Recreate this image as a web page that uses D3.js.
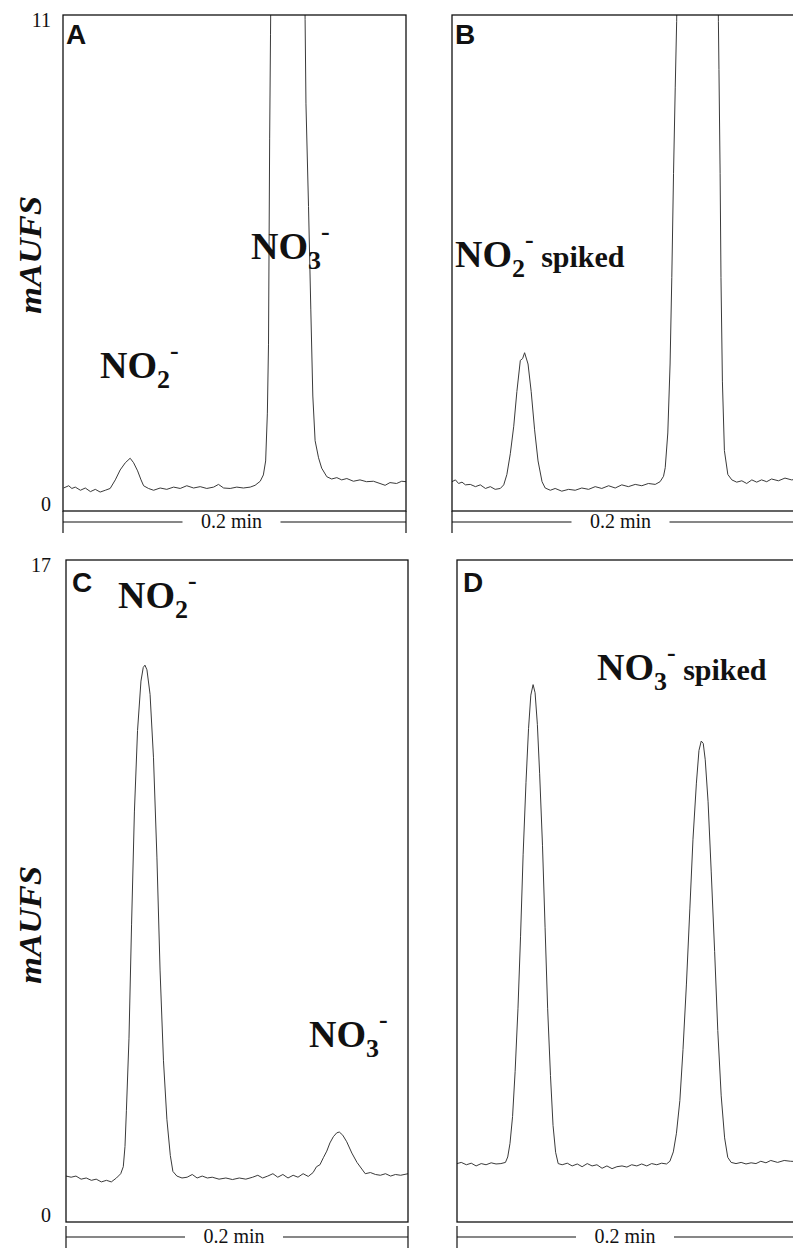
<!DOCTYPE html>
<html>
<head>
<meta charset="utf-8">
<script src="https://cdn.jsdelivr.net/npm/d3@7"></script>
<style>
  body { margin: 0; background: #fff; }
</style>
</head>
<body>
<div id="chart"></div>
<script>
var svgWidth = 793;
var svgHeight = 1248;

// time in seconds (0.2 min = 12 s across each panel), signal in mAUFS
var traceA = [[0.02,0.51],[0.20,0.56],[0.31,0.50],[0.43,0.53],[0.61,0.46],[0.78,0.51],[0.96,0.43],[1.13,0.48],[1.30,0.42],[1.48,0.46],
  [1.65,0.50],[1.83,0.69],[2.00,0.91],[2.18,1.07],[2.35,1.17],[2.47,1.07],[2.61,0.89],[2.73,0.69],[2.82,0.56],[2.99,0.50],
  [3.17,0.46],[3.40,0.51],[3.63,0.48],[3.87,0.53],[4.10,0.50],[4.33,0.56],[4.57,0.51],[4.80,0.54],[5.03,0.50],[5.27,0.53],
  [5.44,0.59],[5.62,0.51],[5.85,0.50],[6.08,0.53],[6.31,0.51],[6.55,0.53],[6.72,0.57],[6.90,0.66],[7.01,0.80],[7.09,1.11],
  [7.15,2.17],[7.19,3.70],[7.21,5.98],[7.23,8.27],[7.26,10.56],[7.28,12.08],[8.45,12.08],[8.47,10.90],[8.50,9.03],[8.59,6.75],
  [8.67,4.46],[8.74,2.55],[8.82,1.56],[8.94,1.18],[9.05,0.95],[9.23,0.76],[9.40,0.71],[9.58,0.74],[9.75,0.69],[9.93,0.72],
  [10.16,0.66],[10.39,0.69],[10.62,0.65],[10.86,0.66],[11.09,0.61],[11.27,0.57],[11.44,0.63],[11.67,0.61],[11.85,0.66],[12.00,0.65]];

var traceB = [[0.00,0.65],[0.12,0.69],[0.23,0.61],[0.35,0.64],[0.47,0.58],[0.64,0.59],[0.82,0.54],[0.99,0.58],[1.17,0.50],[1.34,0.54],
  [1.51,0.48],[1.69,0.50],[1.81,0.58],[1.92,0.81],[2.04,1.27],[2.16,1.88],[2.27,2.65],[2.39,3.34],[2.47,3.38],[2.54,3.51],
  [2.66,3.26],[2.77,2.65],[2.89,1.80],[3.01,1.11],[3.15,0.65],[3.26,0.51],[3.44,0.46],[3.61,0.50],[3.84,0.44],[4.08,0.48],
  [4.31,0.46],[4.54,0.51],[4.78,0.48],[5.01,0.54],[5.24,0.50],[5.48,0.56],[5.71,0.51],[5.94,0.58],[6.17,0.54],[6.41,0.59],
  [6.64,0.56],[6.87,0.61],[7.11,0.59],[7.28,0.65],[7.40,0.77],[7.46,0.96],[7.55,1.73],[7.63,3.26],[7.69,5.18],[7.75,7.48],
  [7.81,9.40],[7.86,10.86],[7.89,12.09],[9.30,12.09],[9.32,10.86],[9.34,9.79],[9.38,7.48],[9.41,5.18],[9.46,2.88],[9.53,1.34],
  [9.65,0.81],[9.79,0.69],[9.96,0.64],[10.14,0.67],[10.31,0.61],[10.49,0.69],[10.66,0.64],[10.83,0.69],[11.01,0.65],[11.18,0.71],
  [11.42,0.67],[11.65,0.73],[11.88,0.69],[12.00,0.70]];

var traceC = [[0.00,1.18],[0.18,1.15],[0.35,1.18],[0.53,1.10],[0.71,1.13],[0.89,1.07],[1.06,1.10],[1.24,1.03],[1.42,1.07],[1.59,1.03],
  [1.77,1.13],[1.92,1.24],[2.01,1.42],[2.07,1.94],[2.12,2.87],[2.21,4.72],[2.30,7.63],[2.40,10.53],[2.51,12.62],[2.63,13.89],
  [2.71,14.24],[2.77,14.30],[2.84,14.18],[2.95,13.55],[3.07,11.92],[3.19,9.37],[3.30,6.47],[3.42,4.14],[3.54,2.64],[3.66,1.71],
  [3.75,1.30],[3.89,1.18],[4.07,1.13],[4.25,1.15],[4.43,1.22],[4.60,1.13],[4.78,1.18],[4.96,1.13],[5.13,1.15],[5.37,1.10],
  [5.61,1.13],[5.84,1.09],[6.08,1.13],[6.31,1.10],[6.55,1.15],[6.73,1.20],[6.90,1.13],[7.08,1.18],[7.26,1.24],[7.43,1.15],
  [7.61,1.22],[7.79,1.13],[7.97,1.20],[8.14,1.15],[8.32,1.24],[8.50,1.17],[8.67,1.27],[8.79,1.42],[8.91,1.47],[9.03,1.65],
  [9.15,1.82],[9.26,2.03],[9.38,2.19],[9.50,2.29],[9.59,2.31],[9.71,2.23],[9.85,2.06],[10.03,1.77],[10.21,1.53],[10.38,1.36],
  [10.50,1.24],[10.68,1.27],[10.86,1.22],[11.03,1.20],[11.21,1.24],[11.39,1.18],[11.56,1.22],[11.74,1.20],[12.00,1.24]];

var traceD = [[0.00,1.50],[0.15,1.53],[0.33,1.47],[0.50,1.51],[0.67,1.44],[0.85,1.50],[1.02,1.47],[1.20,1.52],[1.37,1.49],[1.54,1.50],
  [1.70,1.53],[1.78,1.67],[1.86,2.02],[1.95,2.71],[2.04,3.87],[2.14,5.49],[2.23,7.34],[2.32,9.43],[2.42,11.28],[2.51,12.67],
  [2.59,13.53],[2.67,13.80],[2.74,13.59],[2.82,12.78],[2.90,11.51],[3.00,9.66],[3.09,7.57],[3.18,5.49],[3.28,3.76],[3.37,2.48],
  [3.46,1.79],[3.55,1.50],[3.69,1.47],[3.87,1.51],[4.04,1.44],[4.22,1.49],[4.39,1.42],[4.57,1.50],[4.74,1.44],[4.91,1.47],
  [5.09,1.38],[5.26,1.44],[5.44,1.37],[5.61,1.42],[5.79,1.44],[5.96,1.41],[6.13,1.47],[6.31,1.44],[6.48,1.49],[6.66,1.44],
  [6.83,1.50],[7.01,1.47],[7.18,1.51],[7.35,1.49],[7.47,1.56],[7.59,1.80],[7.70,2.28],[7.82,3.12],[7.93,4.43],[8.05,6.11],
  [8.17,8.04],[8.28,9.83],[8.40,11.27],[8.49,12.11],[8.57,12.35],[8.64,12.29],[8.71,11.87],[8.81,10.79],[8.92,8.99],[9.04,6.95],
  [9.15,4.92],[9.27,3.24],[9.39,2.16],[9.50,1.66],[9.62,1.53],[9.79,1.50],[9.97,1.53],[10.14,1.49],[10.32,1.52],[10.49,1.50],
  [10.66,1.56],[10.84,1.52],[11.01,1.58],[11.25,1.53],[11.48,1.58],[11.70,1.56],[12.00,1.55]];

var ticksTop = [0, 11];
var ticksBottom = [0, 17];
var scaleBarSeconds = 12;
var scaleBarLabel = "0.2 min";
var yTitle = "mAUFS";

var svg = d3.select("#chart")
    .append("svg")
    .attr("width", svgWidth)
    .attr("height", svgHeight);

var panels = [
    { letter: "A", trace: traceA, ticks: ticksTop, yMax: 11, left: 63, right: 406, top: 15, bottom: 511, barY: 522, showAxis: true,
      labels: [{ x: 100, y: 378, sub: "2" }, { x: 251, y: 259, sub: "3" }] },
    { letter: "B", trace: traceB, ticks: ticksTop, yMax: 11, left: 452, right: 795, top: 15, bottom: 511, barY: 522, showAxis: false,
      labels: [{ x: 455, y: 267, sub: "2", rest: " spiked" }] },
    { letter: "C", trace: traceC, ticks: ticksBottom, yMax: 17, left: 66, right: 408, top: 560, bottom: 1222, barY: 1237, showAxis: true,
      labels: [{ x: 118, y: 608, sub: "2" }, { x: 309, y: 1047, sub: "3" }] },
    { letter: "D", trace: traceD, ticks: ticksBottom, yMax: 17, left: 457, right: 799, top: 560, bottom: 1222, barY: 1237, showAxis: false,
      labels: [{ x: 597, y: 680, sub: "3", rest: " spiked" }] }
];

panels.forEach(function(p, i) {
    var xScale = d3.scaleLinear().domain([0, 12]).range([p.left, p.right]);
    var yScale = d3.scaleLinear().domain([0, p.yMax]).range([p.bottom, p.top]);

    var g = svg.append("g");

    svg.append("clipPath")
        .attr("id", "clip" + i)
        .append("rect")
        .attr("x", p.left)
        .attr("y", p.top)
        .attr("width", p.right - p.left)
        .attr("height", p.bottom - p.top);

    // chromatogram trace
    var line = d3.line()
        .x(d => xScale(d[0]))
        .y(d => yScale(d[1]));

    g.append("path")
        .datum(p.trace)
        .attr("clip-path", "url(#clip" + i + ")")
        .attr("d", line)
        .attr("fill", "none")
        .attr("stroke", "#3a3a3a")
        .attr("stroke-width", 1)
        .attr("stroke-linejoin", "round");

    // frame
    g.append("rect")
        .attr("x", p.left)
        .attr("y", p.top)
        .attr("width", p.right - p.left)
        .attr("height", p.bottom - p.top)
        .attr("fill", "none")
        .attr("stroke", "#111")
        .attr("stroke-width", 1.3);

    // y labels (only min / max)
    if (p.showAxis) {
        var leftAxis = d3.axisLeft(yScale)
            .tickValues(p.ticks)
            .tickSize(0)
            .tickPadding(p.left - 51)
            .tickFormat(d3.format("d"));
        var ax = g.append("g")
            .attr("transform", `translate(${p.left}, 0)`)
            .call(leftAxis);
        ax.select(".domain").remove();
        ax.selectAll(".tick text")
            .attr("font-family", "'Liberation Serif', 'Times New Roman', serif")
            .attr("font-size", 20)
            .attr("fill", "#111")
            .attr("dy", d => d === 0 ? "-0.05em" : "0.55em");

        var midY = (p.top + p.bottom) / 2 + (i === 0 ? -8 : 34);
        g.append("text")
            .attr("transform", `translate(41, ${midY}) rotate(-90)`)
            .attr("text-anchor", "middle")
            .attr("font-family", "'Liberation Serif', 'Times New Roman', serif")
            .attr("font-style", "italic")
            .attr("font-weight", "bold")
            .attr("font-size", 32)
            .attr("textLength", 118)
            .attr("lengthAdjust", "spacingAndGlyphs")
            .attr("fill", "#111")
            .text(yTitle);
    }

    // panel letter
    g.append("text")
        .attr("x", p.left + (p.top > 100 ? 6 : 3))
        .attr("y", p.top + (p.top > 100 ? 32 : 29))
        .attr("font-family", "'Liberation Sans', Arial, sans-serif")
        .attr("font-weight", "bold")
        .attr("font-size", 28)
        .attr("fill", "#111")
        .text(p.letter);

    // ion labels
    p.labels.forEach(function(l) {
        var t = g.append("text")
            .attr("x", l.x)
            .attr("y", l.y)
            .attr("font-family", "'Liberation Serif', 'Times New Roman', serif")
            .attr("font-weight", "bold")
            .attr("font-size", 38)
            .attr("fill", "#111");
        t.append("tspan").text("NO");
        t.append("tspan").attr("font-size", 26).attr("dy", 10).text(l.sub);
        t.append("tspan").attr("font-size", 26).attr("dy", -29).text("-");
        if (l.rest) {
            t.append("tspan").attr("font-size", 30).attr("dy", 19).text(l.rest);
        }
    });

    // 0.2 min scale bar
    var x0 = xScale(0);
    var x1 = xScale(scaleBarSeconds);
    var cx = (x0 + x1) / 2;
    var bar = g.append("g")
        .attr("stroke", "#111")
        .attr("stroke-width", 1.2);
    bar.append("line").attr("x1", x0).attr("x2", cx - 52).attr("y1", p.barY).attr("y2", p.barY);
    bar.append("line").attr("x1", cx + 46).attr("x2", x1).attr("y1", p.barY).attr("y2", p.barY);
    bar.append("line").attr("x1", x0).attr("x2", x0).attr("y1", p.barY - 11).attr("y2", p.barY + 11);
    bar.append("line").attr("x1", x1).attr("x2", x1).attr("y1", p.barY - 11).attr("y2", p.barY + 11);

    g.append("text")
        .attr("x", cx - 3)
        .attr("y", p.barY + 6)
        .attr("text-anchor", "middle")
        .attr("font-family", "'Liberation Serif', 'Times New Roman', serif")
        .attr("font-size", 20)
        .attr("fill", "#111")
        .text(scaleBarLabel);
});
</script>
</body>
</html>
